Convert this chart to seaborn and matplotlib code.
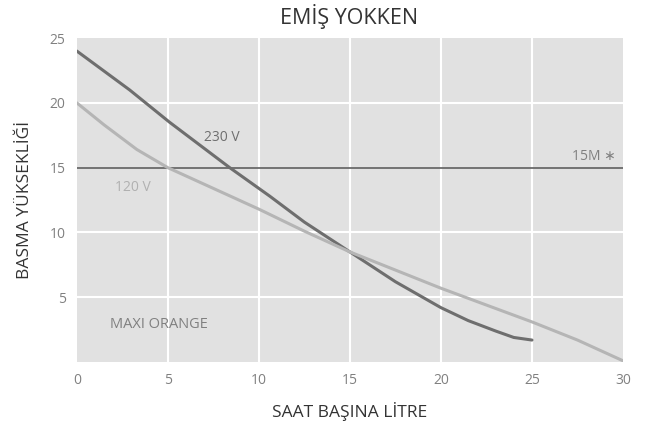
import numpy as np
import pandas as pd
import matplotlib
matplotlib.use("Agg")
import matplotlib.pyplot as plt
import seaborn as sns

# curve readings (flow in l/h, head in m)
flow_230 = [0, 2.9, 5.1, 8.4, 10.6, 12.5, 15, 17.5, 20, 21.5, 23, 24, 25]
head_230 = [24, 21.0, 18.5, 15.0, 12.8, 10.8, 8.5, 6.2, 4.2, 3.2, 2.4, 1.9, 1.7]
flow_120 = [0, 1.5, 3.3, 5, 7.5, 10, 12.5, 15, 17.5, 20, 22.5, 25, 27.5, 30]
head_120 = [20, 18.3, 16.4, 15.0, 13.4, 11.8, 10.1, 8.5, 7.1, 5.7, 4.4, 3.1, 1.7, 0.1]
x_ticks = [0, 5, 10, 15, 20, 25, 30]
y_ticks = [5, 10, 15, 20, 25]
limit_head = 15

df = pd.concat([
    pd.DataFrame({"flow": flow_230, "head": head_230, "volt": "230 V"}),
    pd.DataFrame({"flow": flow_120, "head": head_120, "volt": "120 V"}),
])

sns.set_style("white")
plt.rcParams["font.family"] = ["Open Sans", "DejaVu Sans"]

fig = plt.figure(figsize=(6.51, 4.23), dpi=100)
ax = fig.add_axes([0.118, 0.144, 0.839, 0.766])
ax.set_facecolor("#e1e1e1")

sns.lineplot(data=df, x="flow", y="head", hue="volt",
             palette={"230 V": "#6e6e6e", "120 V": "#b5b5b5"},
             linewidth=2.2, legend=False, ax=ax, zorder=3)

ax.set_xlim(0, 30)
ax.set_ylim(0, 25)
ax.set_xticks(x_ticks)
ax.set_yticks(y_ticks)
for v in x_ticks[1:-1]:
    ax.axvline(v, color="white", lw=1.5, zorder=1)
for v in y_ticks[:-1]:
    if v != limit_head:
        ax.axhline(v, color="white", lw=1.5, zorder=1)
ax.axhline(limit_head, color="#6a6a6a", lw=1.3, zorder=2)

for s in ax.spines.values():
    s.set_visible(False)
ax.tick_params(length=0, labelsize=10, labelcolor="#808080", pad=8)

ax.text(7.0, 17.3, "230 V", color="#6e6e6e", fontsize=10, va="center")
ax.text(2.1, 13.5, "120 V", color="#b0b0b0", fontsize=10, va="center")
ax.text(29.6, 15.9, "15M \u2217", color="#808080", fontsize=10, va="center", ha="right")
ax.text(1.8, 2.9, "MAXI ORANGE", color="#808080", fontsize=10.5, va="center")

fig.suptitle("EMİŞ YOKKEN", x=0.536, y=0.99, fontsize=15.5, color="#333333")
ax.set_xlabel("SAAT BAŞINA LİTRE", fontsize=12.5, color="#333333", labelpad=10)
ax.set_ylabel("BASMA YÜKSEKLİĞİ", fontsize=12.5, color="#333333", labelpad=12)

fig.savefig("out.png", dpi=100)
